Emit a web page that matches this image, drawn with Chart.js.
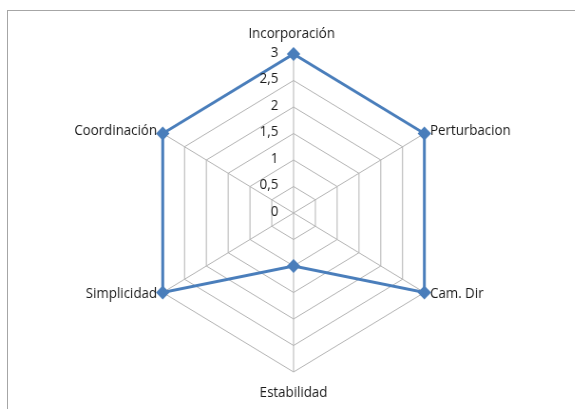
<!DOCTYPE html>
<html>
<head>
<meta charset="utf-8">
<script src="https://cdn.jsdelivr.net/npm/chart.js@4.4.1/dist/chart.umd.min.js"></script>
<style>
  html, body { margin: 0; padding: 0; background: #fff; overflow: hidden; }
  #frame { position: absolute; left: 7px; top: 10px; width: 700px; height: 500px; border: 1px solid #a6a6a6; }
  #wrap { position: absolute; left: 0; top: 0; width: 605px; height: 409px; transform: scaleX(0.95); transform-origin: 0 0; }
</style>
</head>
<body>
<div id="frame"></div>
<div id="wrap"><canvas id="chart" width="605" height="409"></canvas></div>
<script>
const categories = ['Incorporación', 'Perturbacion', 'Cam. Dir', 'Estabilidad', 'Simplicidad', 'Coordinación'];
const values = [3, 3, 3, 1, 3, 3];
const tickValues = [0, 0.5, 1, 1.5, 2, 2.5, 3];
const tickLabels = ['0', '0,5', '1', '1,5', '2', '2,5', '3'];

const textFont = '14px "Open Sans", sans-serif';
const textColor = '#1a1a1a';

// axis names and tick numbers are placed by hand around the radial scale
const labelPlugin = {
  id: 'radarText',
  afterDraw(chart) {
    const scale = chart.scales.r;
    const ctx = chart.ctx;
    ctx.save();
    ctx.font = textFont;
    ctx.fillStyle = textColor;
    ctx.textBaseline = 'middle';

    const place = [
      { align: 'center', dx: -2, dy: -20 },
      { align: 'left', dx: 6, dy: -2 },
      { align: 'left', dx: 6, dy: 2 },
      { align: 'center', dx: 0, dy: 21 },
      { align: 'right', dx: -6, dy: 2 },
      { align: 'right', dx: -6, dy: -2 }
    ];
    categories.forEach((name, i) => {
      const p = scale.getPointPosition(i, scale.drawingArea);
      ctx.textAlign = place[i].align;
      ctx.fillText(name, p.x + place[i].dx, p.y + place[i].dy);
    });

    ctx.textAlign = 'right';
    tickValues.forEach((v, i) => {
      const d = scale.getDistanceFromCenterForValue(v);
      ctx.fillText(tickLabels[i], scale.xCenter - 16, scale.yCenter - d - 1);
    });
    ctx.restore();
  }
};

new Chart(document.getElementById('chart'), {
  type: 'radar',
  data: {
    labels: categories,
    datasets: [{
      data: values,
      borderColor: '#4a7ebb',
      backgroundColor: '#4a7ebb',
      borderWidth: 3,
      fill: false,
      pointStyle: 'rectRot',
      pointRadius: 5,
      pointBackgroundColor: '#4a7ebb',
      pointBorderColor: '#4a7ebb',
      tension: 0
    }]
  },
  options: {
    responsive: false,
    animation: false,
    layout: { padding: { left: 150, right: 137, top: 54, bottom: 37 } },
    plugins: { legend: { display: false }, tooltip: { enabled: false } },
    scales: {
      r: {
        min: 0,
        max: 3,
        ticks: { display: false, stepSize: 0.5 },
        grid: { color: '#b3b3b3', lineWidth: 1 },
        angleLines: { color: '#b3b3b3', lineWidth: 1 },
        pointLabels: { display: false }
      }
    }
  },
  plugins: [labelPlugin]
});
</script>
</body>
</html>
